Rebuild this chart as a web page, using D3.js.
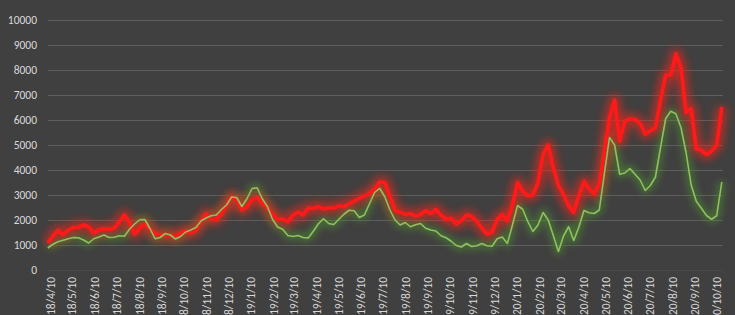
<!DOCTYPE html>
<html>
<head>
<meta charset="utf-8">
<script src="https://cdn.jsdelivr.net/npm/d3@7"></script>
<style>
html,body{margin:0;padding:0;background:#404040;overflow:hidden;}
svg{display:block;}
</style>
</head>
<body>
<svg id="chart" width="735" height="315"></svg>
<script>
// ---- data ----
const tickLabels = ["2018/4/10","2018/5/10","2018/6/10","2018/7/10","2018/8/10","2018/9/10","2018/10/10","2018/11/10","2018/12/10",
  "2019/1/10","2019/2/10","2019/3/10","2019/4/10","2019/5/10","2019/6/10","2019/7/10","2019/8/10","2019/9/10","2019/10/10","2019/11/10","2019/12/10",
  "2020/1/10","2020/2/10","2020/3/10","2020/4/10","2020/5/10","2020/6/10","2020/7/10","2020/8/10","2020/9/10","2020/10/10"];
const yTicks = [0,1000,2000,3000,4000,5000,6000,7000,8000,9000,10000];
const firstWeek = "2018/4/7";   // weekly observations start
const redSeries = [1080,1350,1580,1420,1600,1700,1710,1800,1720,1480,1600,1660,1630,1680,1920,2200,1900,1440,1680,1840,
  1640,1460,1400,1400,1400,1340,1470,1560,1480,1580,1950,2250,2050,2000,2250,2580,2950,2800,2400,2530,
  2800,2900,2660,2500,2240,2010,2050,1930,2180,2320,2200,2480,2460,2540,2440,2480,2480,2560,2530,2650,
  2760,2860,2960,3060,3230,3520,3500,2940,2380,2320,2210,2260,2150,2220,2370,2250,2420,2190,2020,2070,
  1840,1980,2200,2140,1940,1680,1440,1510,2020,2220,1960,2600,3500,3150,2960,3000,3500,4620,5000,4100,
  3380,3010,2560,2310,2960,3550,3250,3030,3450,4700,6100,6800,5150,5950,6050,6020,5860,5440,5570,5680,
  6800,7800,7800,8650,8100,6300,6450,4850,4780,4620,4760,4970,6520];
const greenSeries = [880,1030,1130,1190,1250,1300,1290,1200,1080,1250,1320,1400,1300,1310,1370,1350,1630,1840,2010,2020,
  1660,1250,1300,1460,1400,1240,1340,1520,1600,1700,1960,2080,2170,2200,2420,2600,2920,2900,2540,2850,
  3260,3290,2850,2540,2030,1720,1630,1380,1340,1380,1300,1280,1550,1850,2050,1860,1820,2030,2230,2390,
  2370,2100,2200,2650,3100,3270,2930,2400,2000,1800,1900,1730,1810,1860,1670,1600,1560,1370,1290,1150,
  980,920,1060,940,970,1060,970,950,1250,1320,1060,1800,2580,2430,1940,1540,1800,2300,2000,1380,
  740,1360,1730,1180,1710,2380,2290,2260,2400,3850,5300,5000,3830,3880,4060,3830,3600,3180,3380,3720,
  4900,6050,6350,6250,5700,4700,3400,2750,2470,2180,2030,2170,3520];

// ---- chart ----
(function(){
const parse = d3.timeParse("%Y/%m/%d");
const svg = d3.select("#chart");
const mLeft = 48, mRight = 723, mTop = 20, mBottom = 270;

const tickDates = tickLabels.map(parse);
const x = d3.scaleTime()
  .domain([tickDates[0], tickDates[tickDates.length-1]])
  .range([50, 716.7]);
const y = d3.scaleLinear().domain([0,10000]).range([mBottom, mTop]);

const start = parse(firstWeek);
const dates = redSeries.map((_, i) => d3.timeDay.offset(start, 7*i));

const defs = svg.append("defs");
function glow(id, sd){
  const f = defs.append("filter").attr("id", id)
    .attr("x","-10%").attr("y","-30%").attr("width","120%").attr("height","160%");
  f.append("feGaussianBlur").attr("stdDeviation", sd);
}
glow("gRed", 4);
glow("gGreen", 3.5);

// gridlines
svg.append("g").selectAll("line").data(yTicks).join("line")
  .attr("x1", mLeft).attr("x2", mRight)
  .attr("y1", d => Math.round(y(d))+0.5).attr("y2", d => Math.round(y(d))+0.5)
  .attr("stroke", d => d === 0 ? "#4a4a4a" : "#5e5e5e").attr("stroke-width", 1);

// y labels
const yAxis = d3.axisLeft(y).tickValues(yTicks).tickSize(0).tickPadding(0).tickFormat(d3.format("d"));
const gy = svg.append("g").attr("transform", "translate(37,0)").call(yAxis);
gy.select(".domain").remove();
gy.selectAll("text").attr("fill", "#d9d9d9").style("font-family", "Calibri, 'Liberation Sans', Arial, sans-serif").style("font-size", "11.5px");

// x labels
const xAxis = d3.axisBottom(x).tickValues(tickDates).tickSize(0).tickPadding(0)
  .tickFormat((d,i) => tickLabels[i]);
const gx = svg.append("g").attr("transform", `translate(0,${mBottom})`).call(xAxis);
gx.select(".domain").remove();
gx.selectAll("text")
  .attr("fill", "#d9d9d9")
  .style("font-family", "Calibri, 'Liberation Sans', Arial, sans-serif")
  .style("font-size", "11.5px")
  .attr("text-anchor", "end")
  .attr("transform", "rotate(-90)")
  .attr("x", -7).attr("y", 0).attr("dy", "0.35em");

const line = d3.line().x((d,i) => x(dates[i])).y(d => y(d)).curve(d3.curveLinear);

// glows
svg.append("path").datum(greenSeries).attr("d", line)
  .attr("fill","none").attr("stroke","#4e8a30").attr("stroke-width",8).attr("stroke-linejoin","round")
  .attr("opacity",0.6).attr("filter","url(#gGreen)");
svg.append("path").datum(redSeries).attr("d", line)
  .attr("fill","none").attr("stroke","#e8261c").attr("stroke-width",11).attr("stroke-linejoin","round")
  .attr("opacity",0.7).attr("filter","url(#gRed)");
// lines
svg.append("path").datum(redSeries).attr("d", line)
  .attr("fill","none").attr("stroke","#ff1a1a").attr("stroke-width",3.6).attr("stroke-linejoin","round");
svg.append("path").datum(greenSeries).attr("d", line)
  .attr("fill","none").attr("stroke","#8fc060").attr("stroke-width",1.6).attr("stroke-linejoin","round");
})();
</script>
</body>
</html>
